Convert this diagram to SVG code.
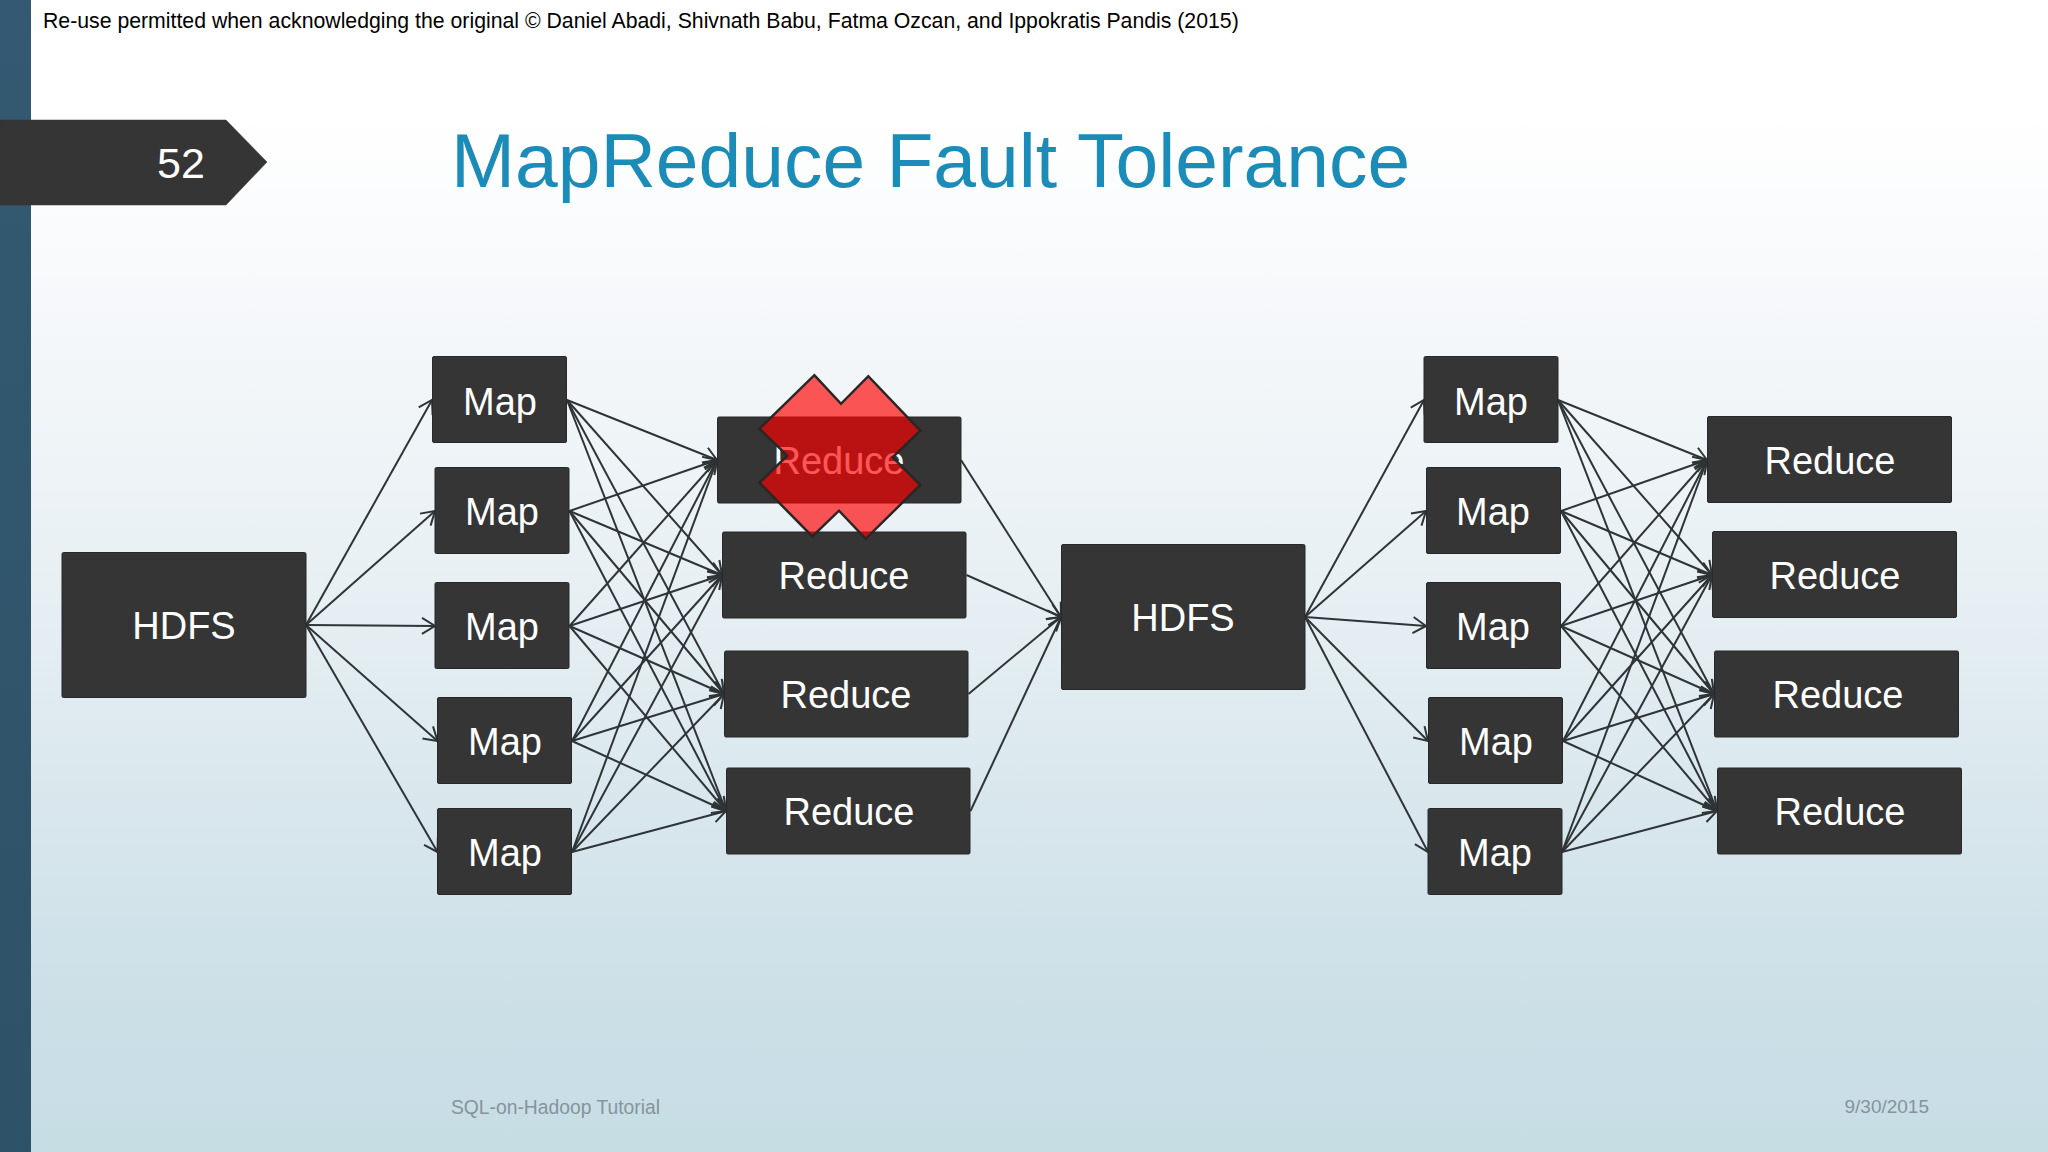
<svg xmlns="http://www.w3.org/2000/svg" width="2048" height="1152" viewBox="0 0 2048 1152">
<style>
text{font-family:"Liberation Sans",Arial,sans-serif}
.n rect{fill:#353535;stroke:#262829;stroke-width:1;rx:1.5px}
.n text{fill:#fff;font-size:38px;text-anchor:middle}
#connectors line{stroke:#2f3436;stroke-width:2;marker-end:url(#a)}
</style>
<defs>
<linearGradient id="bg" x1="0" y1="0" x2="0" y2="1"><stop offset="0.1" stop-color="#ffffff"/><stop offset="0.3" stop-color="#f4f7fa"/><stop offset="0.5" stop-color="#e8f0f4"/><stop offset="0.88" stop-color="#cbdfe7"/><stop offset="1" stop-color="#c7dde4"/></linearGradient>
<linearGradient id="bar" x1="0" y1="0" x2="0" y2="1"><stop offset="0" stop-color="#335a72"/><stop offset="1" stop-color="#2e5267"/></linearGradient>
<marker id="a" markerUnits="userSpaceOnUse" markerWidth="20" markerHeight="24" refX="15" refY="12" orient="auto"><path d="M2 4L15 12L2 20" fill="none" stroke="#2f3436" stroke-width="2"/></marker>
</defs>
<rect width="2048" height="1152" fill="url(#bg)"/>
<rect width="31" height="1152" fill="url(#bar)"/>
<text x="43" y="28" font-size="21.250" fill="#000">Re-use permitted when acknowledging the original © Daniel Abadi, Shivnath Babu, Fatma Ozcan, and Ippokratis Pandis (2015)</text>
<path d="M0 120H226L267 162L226 205H0Z" fill="#353535" stroke="#353535" stroke-width=".5" stroke-linejoin="round"/>
<text x="181" y="178" font-size="43" fill="#fff" text-anchor="middle">52</text>
<text x="451" y="187" font-size="76.800" fill="#1b8cb8">MapReduce Fault Tolerance</text>
<text x="451" y="1114" font-size="19.300" fill="#85949c">SQL-on-Hadoop Tutorial</text>
<text x="1929" y="1113" font-size="19" fill="#85949c" text-anchor="end">9/30/2015</text>
<g id="connectors">
<line x1="306" y1="625" x2="432" y2="400"/><line x1="306" y1="625" x2="435" y2="511"/><line x1="306" y1="625" x2="435" y2="626"/><line x1="306" y1="625" x2="437.500" y2="741"/><line x1="306" y1="625" x2="437.500" y2="852"/>
<line x1="567" y1="400" x2="717" y2="460"/><line x1="567" y1="400" x2="722" y2="575"/><line x1="567" y1="400" x2="724" y2="694"/><line x1="567" y1="400" x2="726" y2="811"/>
<line x1="569.500" y1="511" x2="717" y2="460"/><line x1="569.500" y1="511" x2="722" y2="575"/><line x1="569.500" y1="511" x2="724" y2="694"/><line x1="569.500" y1="511" x2="726" y2="811"/>
<line x1="569.500" y1="626" x2="717" y2="460"/><line x1="569.500" y1="626" x2="722" y2="575"/><line x1="569.500" y1="626" x2="724" y2="694"/><line x1="569.500" y1="626" x2="726" y2="811"/>
<line x1="572" y1="741" x2="717" y2="460"/><line x1="572" y1="741" x2="722" y2="575"/><line x1="572" y1="741" x2="724" y2="694"/><line x1="572" y1="741" x2="726" y2="811"/>
<line x1="572" y1="852" x2="717" y2="460"/><line x1="572" y1="852" x2="722" y2="575"/><line x1="572" y1="852" x2="724" y2="694"/><line x1="572" y1="852" x2="726" y2="811"/>
<line x1="961" y1="460" x2="1061" y2="617"/><line x1="966.500" y1="575" x2="1061" y2="617"/><line x1="968.500" y1="694" x2="1061" y2="617"/><line x1="970.500" y1="811" x2="1061" y2="617"/>
<line x1="1305" y1="617" x2="1424" y2="400"/><line x1="1305" y1="617" x2="1426" y2="511"/><line x1="1305" y1="617" x2="1426" y2="626"/><line x1="1305" y1="617" x2="1428" y2="741"/><line x1="1305" y1="617" x2="1428" y2="852"/>
<line x1="1558" y1="400" x2="1707" y2="460"/><line x1="1558" y1="400" x2="1712" y2="575"/><line x1="1558" y1="400" x2="1714" y2="694"/><line x1="1558" y1="400" x2="1717" y2="811"/>
<line x1="1561" y1="511" x2="1707" y2="460"/><line x1="1561" y1="511" x2="1712" y2="575"/><line x1="1561" y1="511" x2="1714" y2="694"/><line x1="1561" y1="511" x2="1717" y2="811"/>
<line x1="1561" y1="626" x2="1707" y2="460"/><line x1="1561" y1="626" x2="1712" y2="575"/><line x1="1561" y1="626" x2="1714" y2="694"/><line x1="1561" y1="626" x2="1717" y2="811"/>
<line x1="1563" y1="741" x2="1707" y2="460"/><line x1="1563" y1="741" x2="1712" y2="575"/><line x1="1563" y1="741" x2="1714" y2="694"/><line x1="1563" y1="741" x2="1717" y2="811"/>
<line x1="1562" y1="852" x2="1707" y2="460"/><line x1="1562" y1="852" x2="1712" y2="575"/><line x1="1562" y1="852" x2="1714" y2="694"/><line x1="1562" y1="852" x2="1717" y2="811"/>
</g>
<g id="hdfs1" class="n"><rect x="62" y="552.500" width="244" height="145"/><text x="184" y="639">HDFS</text></g>
<g id="map1" class="n"><rect x="432.500" y="356.500" width="134" height="86"/><text x="500" y="414.500">Map</text></g>
<g id="map2" class="n"><rect x="435" y="467.500" width="134" height="86"/><text x="502" y="525">Map</text></g>
<g id="map3" class="n"><rect x="435" y="582.500" width="134" height="86"/><text x="502" y="640">Map</text></g>
<g id="map4" class="n"><rect x="437.500" y="697.500" width="134" height="86"/><text x="505" y="755">Map</text></g>
<g id="map5" class="n"><rect x="437.500" y="808.500" width="134" height="86"/><text x="505" y="866">Map</text></g>
<g id="reduce1" class="n"><rect x="717.500" y="417" width="243.500" height="86"/><text x="839" y="474">Reduce</text></g>
<g id="reduce2" class="n"><rect x="722.500" y="532" width="243.500" height="86"/><text x="844" y="589">Reduce</text></g>
<g id="reduce3" class="n"><rect x="724.500" y="651" width="243.500" height="86"/><text x="846" y="708">Reduce</text></g>
<g id="reduce4" class="n"><rect x="726.500" y="768" width="243.500" height="86"/><text x="849" y="825">Reduce</text></g>
<g id="hdfs2" class="n"><rect x="1061.500" y="544.500" width="243.500" height="145"/><text x="1183" y="631">HDFS</text></g>
<g id="map6" class="n"><rect x="1424" y="356.500" width="134" height="86"/><text x="1491" y="414.500">Map</text></g>
<g id="map7" class="n"><rect x="1426.500" y="467.500" width="134" height="86"/><text x="1493" y="525">Map</text></g>
<g id="map8" class="n"><rect x="1426.500" y="582.500" width="134" height="86"/><text x="1493" y="640">Map</text></g>
<g id="map9" class="n"><rect x="1428.500" y="697.500" width="134" height="86"/><text x="1496" y="755">Map</text></g>
<g id="map10" class="n"><rect x="1428" y="808.500" width="134" height="86"/><text x="1495" y="866">Map</text></g>
<g id="reduce5" class="n"><rect x="1707.500" y="416.500" width="244" height="86"/><text x="1830" y="474">Reduce</text></g>
<g id="reduce6" class="n"><rect x="1712.500" y="531.500" width="244" height="86"/><text x="1835" y="589">Reduce</text></g>
<g id="reduce7" class="n"><rect x="1714.500" y="651" width="244" height="86"/><text x="1838" y="708">Reduce</text></g>
<g id="reduce8" class="n"><rect x="1717.500" y="768" width="244" height="86"/><text x="1840" y="825">Reduce</text></g>
<path id="cross" d="M814.300 375.200L841 403.800L868.300 376.200L920.300 430.700L892.700 457.300L920.300 485L865.700 538.800L839 510.700L812.300 536.500L759.500 482.700L787.300 455.700L759.500 428.700Z" fill="#f00" fill-opacity=".66" stroke="#2a2626" stroke-width="2.500"/>
</svg>
